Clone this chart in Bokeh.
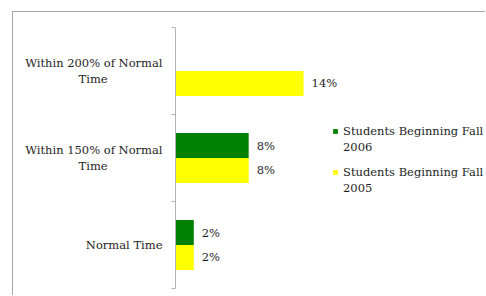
from bokeh.plotting import figure
from bokeh.models import (ColumnDataSource, Range1d, LinearAxis, FixedTicker,
                          Legend, LegendItem)
from bokeh.transform import dodge
from bokeh.core.properties import value
from bokeh.embed import file_html
from bokeh.resources import INLINE

# ---- data ----
categories = ["Normal Time", "Within 150% of Normal\nTime", "Within 200% of Normal\nTime"]
fall_2006 = [2, 8, None]
fall_2005 = [2, 8, 14]
series_names = ["Students Beginning Fall", "Students Beginning Fall"]
series_years = ["2006", "2005"]
series_colors = ["#008000", "#ffff00"]

FONT = "DejaVu Serif"
FS = "11.5px"
TXT = "#1e1e1e"
NB = "\u00a0" * 15

centers = [i + 0.5 for i in range(len(categories))]

def center_lines(name):
    # second line is centred under the first one
    parts = name.split("\n")
    if len(parts) == 1:
        return name
    return parts[0] + "\n" + NB + parts[1] + NB

def make_source(vals):
    ys = [c for c, v in zip(centers, vals) if v is not None]
    vs = [v for v in vals if v is not None]
    return ColumnDataSource(dict(y=ys, v=vs, lbl=[f"{v}%" for v in vs]))

src06 = make_source(fall_2006)
src05 = make_source(fall_2005)

p = figure(width=473, height=284,
           y_range=Range1d(0, len(categories)),
           x_range=Range1d(0, 34.0),
           output_backend="svg", toolbar_location=None,
           x_axis_location=None, y_axis_location=None,
           min_border_left=162, min_border_top=15, min_border_bottom=8, min_border_right=0,
           styles={"margin-left": "12px", "margin-top": "11px",
                   "border-left": "1px solid #a6a6a6", "border-top": "1px solid #a6a6a6"})
p.outline_line_color = None
p.background_fill_color = "white"
p.border_fill_color = "white"
p.grid.grid_line_color = None

tick_axis = LinearAxis(ticker=FixedTicker(ticks=list(range(len(categories) + 1))),
                       major_tick_in=0, major_tick_out=4, minor_tick_line_color=None,
                       major_label_overrides={i: "" for i in range(len(categories) + 1)},
                       major_label_standoff=0, axis_line_color="#b3b3b3",
                       major_tick_line_color="#b3b3b3")
cat_axis = LinearAxis(ticker=FixedTicker(ticks=centers),
                      major_label_overrides={c: center_lines(n) for c, n in zip(centers, categories)},
                      axis_line_color=None, major_tick_line_color=None,
                      minor_tick_line_color=None, major_label_standoff=3,
                      major_label_text_font=FONT, major_label_text_font_size=FS,
                      major_label_text_color=TXT)
p.add_layout(tick_axis, "left")
p.add_layout(cat_axis, "left")

h = 0.287
r06 = p.hbar(y=dodge("y", h / 2), left=0, right="v", height=h,
             fill_color=series_colors[0], line_color=None, source=src06)
r05 = p.hbar(y=dodge("y", -h / 2), left=0, right="v", height=h,
             fill_color=series_colors[1], line_color=None, source=src05)

for src, off in ((src06, h / 2), (src05, -h / 2)):
    p.text(x="v", y=dodge("y", off), text="lbl", source=src,
           x_offset=8, text_baseline="middle", text_align="left",
           text_font=value(FONT), text_font_size=FS, text_color=TXT)

def make_legend(i, r, yloc):
    return Legend(items=[LegendItem(label=series_names[i], renderers=[r]),
                         LegendItem(label=series_years[i], renderers=[])],
                  location=(157, yloc), padding=0, margin=0, border_line_color=None,
                  background_fill_alpha=0, glyph_width=6, glyph_height=6,
                  label_height=16, label_standoff=5, spacing=0,
                  label_text_font=FONT, label_text_font_size=FS,
                  label_text_color=TXT)

p.add_layout(make_legend(0, r06, 133))
p.add_layout(make_legend(1, r05, 92))

open("out.html", "w").write(file_html(p, INLINE))
